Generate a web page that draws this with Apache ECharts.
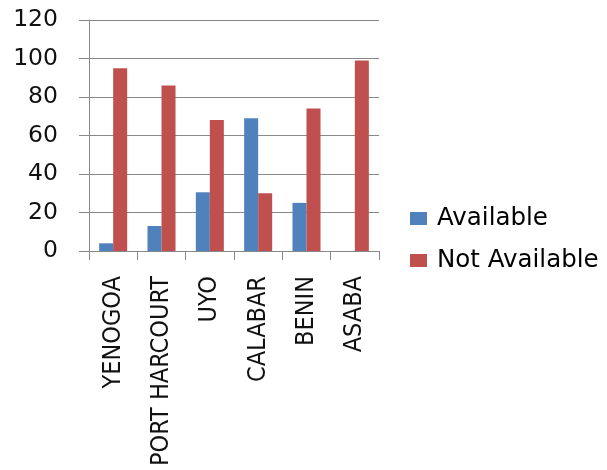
<!DOCTYPE html>
<html>
<head>
<meta charset="utf-8">
<script src="https://cdn.jsdelivr.net/npm/echarts@6/dist/echarts.min.js"></script>
<style>
  html, body { margin: 0; padding: 0; background: #fff; }
  #chart { width: 607px; height: 470px; }
</style>
</head>
<body>
<div id="chart"></div>
<script>
// Availability by city
const cities = ['YENOGOA', 'PORT HARCOURT', 'UYO', 'CALABAR', 'BENIN', 'ASABA'];
const available = [4, 13, 30.5, 69, 25, 0];
const notAvailable = [95, 86, 68, 30, 74, 99];
const yTicks = [0, 20, 40, 60, 80, 100, 120];

const chart = echarts.init(document.getElementById('chart'));
chart.setOption({
  animation: false,
  grid: { left: 89, right: 228, top: 20, bottom: 219 },
  legend: {
    orient: 'vertical',
    left: 405,
    top: 201,
    itemWidth: 17,
    itemHeight: 13,
    itemGap: 17,
    icon: 'rect',
    textStyle: { fontFamily: 'DejaVu Sans', fontSize: 24.5, color: '#000', lineHeight: 24, padding: [0, 0, 0, 5] },
    data: ['Available', 'Not Available']
  },
  xAxis: {
    type: 'category',
    data: cities,
    axisLine: { lineStyle: { color: '#888', width: 1 } },
    axisTick: { show: true, length: 9, lineStyle: { color: '#888' } },
    axisLabel: {
      rotate: 90,
      margin: 25,
      interval: 0,
      color: '#111',
      fontFamily: "'Liberation Sans Narrow', 'DejaVu Sans Condensed', 'Liberation Sans'",
      fontSize: 25
    }
  },
  yAxis: {
    type: 'value',
    min: yTicks[0],
    max: yTicks[yTicks.length - 1],
    interval: 20,
    axisLine: { show: true, lineStyle: { color: '#888', width: 1 } },
    axisTick: { show: true, length: 10, lineStyle: { color: '#888' } },
    splitLine: { lineStyle: { color: '#888', width: 1 } },
    axisLabel: {
      margin: 31,
      color: '#111',
      fontFamily: 'DejaVu Sans',
      fontSize: 23.5
    }
  },
  series: [
    {
      name: 'Available',
      type: 'bar',
      data: available,
      barGap: '0%',
      barCategoryGap: '42%',
      itemStyle: { color: '#4F81BD' }
    },
    {
      name: 'Not Available',
      type: 'bar',
      data: notAvailable,
      itemStyle: { color: '#C0504D' }
    }
  ]
});
</script>
</body>
</html>
